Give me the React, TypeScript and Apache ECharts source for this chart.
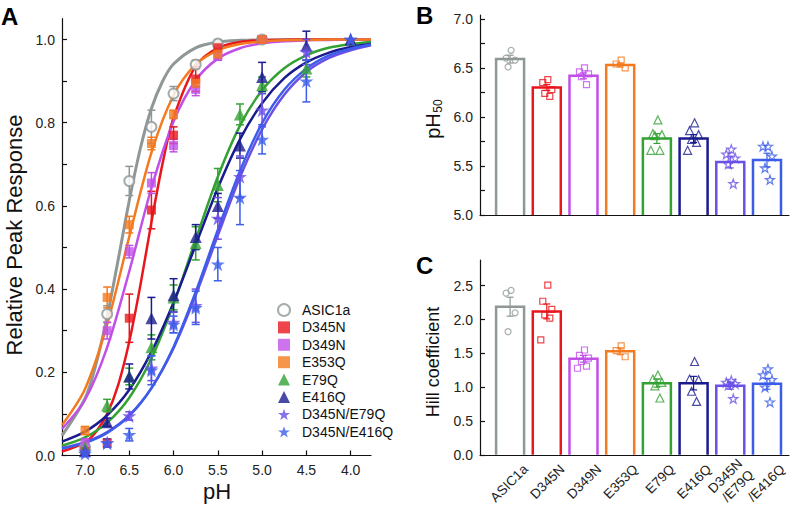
import React, { useEffect, useRef } from "react";
import * as echarts from "echarts";

const FONT = '"Liberation Sans", Arial, sans-serif';

const groupNames = ["ASIC1a", "D345N", "D349N", "E353Q", "E79Q", "E416Q", "D345N/E79Q", "D345N/E416Q"];
const hillAxisLabels = ["ASIC1a", "D345N", "D349N", "E353Q", "E79Q", "E416Q", "D345N\n/E79Q", "/E416Q"];
const groupColors = ["#8f9896", "#e8161d", "#c150e8", "#f47a1f", "#33a233", "#1b1b90", "#6b50e8", "#3b5de9"];

// ---- Panel A: concentration-response ----
const pHTicks = [7.0, 6.5, 6.0, 5.5, 5.0, 4.5, 4.0];
const respTicks = [0, 0.2, 0.4, 0.6, 0.8, 1.0];
const respMinorTicks = [0, 0.1, 0.2, 0.3, 0.4, 0.5, 0.6, 0.7, 0.8, 0.9, 1.0];

const pHSingle = [7.0, 6.75, 6.5, 6.25, 6.0, 5.75, 5.5, 5.0];
const pHDouble = [7.0, 6.75, 6.5, 6.25, 6.0, 5.75, 5.5, 5.25, 5.0, 4.5, 4.0];

const respASIC1a = [0.02, 0.34, 0.66, 0.79, 0.87, 0.94, 0.99, 1.0];
const semASIC1a = [0.01, 0.02, 0.035, 0.04, 0.017, 0.01, 0.01, 0];
const respD345N = [0.01, 0.03, 0.33, 0.59, 0.77, 0.905, 0.98, 1.0];
const semD345N = [0.005, 0.01, 0.058, 0.045, 0.02, 0.03, 0.01, 0];
const respD349N = [0.03, 0.3, 0.49, 0.655, 0.745, 0.88, 0.96, 1.0];
const semD349N = [0.01, 0.02, 0.015, 0.025, 0.015, 0.015, 0.01, 0];
const respE353Q = [0.06, 0.38, 0.555, 0.75, 0.82, 0.895, 0.965, 1.0];
const semE353Q = [0.01, 0.025, 0.02, 0.015, 0.01, 0.01, 0.01, 0];
const respE79Q = [0.02, 0.12, 0.19, 0.26, 0.38, 0.51, 0.65, 0.82, 0.89, 0.93, 1.0];
const semE79Q = [0.01, 0.015, 0.02, 0.03, 0.03, 0.04, 0.04, 0.025, 0.02, 0.02, 0];
const respE416Q = [0.01, 0.08, 0.19, 0.33, 0.385, 0.525, 0.6, 0.745, 0.91, 0.985, 1.0];
const semE416Q = [0.005, 0.01, 0.03, 0.05, 0.04, 0.03, 0.03, 0.03, 0.035, 0.035, 0];
const respD345NE79Q = [0.01, 0.03, 0.095, 0.21, 0.32, 0.36, 0.57, 0.67, 0.83, 0.97, 1.0];
const semD345NE79Q = [0.005, 0.01, 0.01, 0.03, 0.025, 0.04, 0.05, 0.05, 0.04, 0.03, 0];
const respD345NE416Q = [0.005, 0.03, 0.05, 0.205, 0.315, 0.355, 0.46, 0.62, 0.76, 0.9, 1.0];
const semD345NE416Q = [0.005, 0.01, 0.015, 0.035, 0.02, 0.04, 0.04, 0.065, 0.035, 0.05, 0];

// fitted curves
const steepPH = [7.26, 7.0, 6.875, 6.75, 6.625, 6.5, 6.375, 6.25, 6.125, 6.0, 5.75, 5.5, 5.25, 5.0, 4.5, 3.77];
const fitASIC1a = [0.048, 0.137, 0.22, 0.334, 0.471, 0.613, 0.738, 0.834, 0.899, 0.941, 0.98, 0.994, 0.998, 0.999, 1.0, 1.0];
const fitD345N = [0.0096, 0.0317, 0.057, 0.1, 0.17, 0.274, 0.409, 0.561, 0.701, 0.812, 0.936, 0.98, 0.994, 0.998, 1.0, 1.0];
const broadPH = [7.26, 7.0, 6.75, 6.5, 6.25, 6.0, 5.75, 5.5, 5.25, 5.0, 4.75, 4.5, 4.25, 4.0, 3.77];
const fitD349N = [0.064, 0.134, 0.26, 0.443, 0.643, 0.803, 0.902, 0.954, 0.979, 0.991, 0.996, 0.998, 0.999, 1.0, 1.0];
const fitE353Q = [0.073, 0.16, 0.315, 0.526, 0.728, 0.866, 0.94, 0.974, 0.989, 0.995, 0.998, 0.999, 1.0, 1.0, 1.0];
const fitE79Q = [0.0236, 0.0435, 0.079, 0.139, 0.233, 0.364, 0.519, 0.67, 0.793, 0.878, 0.931, 0.962, 0.98, 0.989, 0.994];
const fitE416Q = [0.0335, 0.0574, 0.0968, 0.158, 0.249, 0.368, 0.506, 0.643, 0.76, 0.847, 0.907, 0.945, 0.968, 0.982, 0.989];
const fitD345NE79Q = [0.0181, 0.0321, 0.0563, 0.097, 0.162, 0.258, 0.385, 0.529, 0.669, 0.784, 0.867, 0.922, 0.955, 0.974, 0.986];
const fitD345NE416Q = [0.0169, 0.0305, 0.0545, 0.095, 0.162, 0.261, 0.393, 0.542, 0.684, 0.799, 0.879, 0.93, 0.961, 0.978, 0.988];

// ---- Panel B: pH50 ----
const pH50Ticks = [5.0, 5.5, 6.0, 6.5, 7.0];
const pH50MinorTicks = [5.0, 5.25, 5.5, 5.75, 6.0, 6.25, 6.5, 6.75, 7.0];
const pH50Mean = [6.59, 6.3, 6.42, 6.53, 5.78, 5.78, 5.54, 5.56];
const pH50Sem = [0.04, 0.03, 0.03, 0.02, 0.05, 0.04, 0.06, 0.07];
const pH50Cells = [
  [6.68, 6.6, 6.58, 6.51],
  [6.38, 6.35, 6.28, 6.24, 6.21],
  [6.5, 6.46, 6.44, 6.41, 6.33],
  [6.58, 6.54, 6.5],
  [5.97, 5.83, 5.82, 5.81, 5.66, 5.66],
  [5.94, 5.86, 5.82, 5.77, 5.74, 5.66],
  [5.67, 5.62, 5.58, 5.52, 5.32],
  [5.7, 5.7, 5.6, 5.48, 5.36],
];

// ---- Panel C: Hill coefficient ----
const hillTicks = [0, 0.5, 1.0, 1.5, 2.0, 2.5];
const hillMean = [2.19, 2.12, 1.42, 1.53, 1.06, 1.06, 1.02, 1.05];
const hillSem = [0.14, 0.11, 0.05, 0.05, 0.06, 0.1, 0.05, 0.08];
const hillCells = [
  [2.43, 2.39, 2.1, 1.82],
  [2.51, 2.27, 2.15, 2.07, 2.02, 1.7],
  [1.55, 1.47, 1.43, 1.38, 1.31, 1.28],
  [1.61, 1.54, 1.45],
  [1.18, 1.12, 1.07, 1.02, 0.84],
  [1.38, 1.12, 1.11, 0.94, 0.79],
  [1.1, 1.07, 1.05, 1.03, 0.83],
  [1.27, 1.18, 1.11, 1.0, 0.78],
];

const STAR = "path://M50 2 L62 36 L98 36 L69 57 L80 92 L50 71 L20 92 L31 57 L2 36 L38 36 Z";
const groupSymbols = ["circle", "rect", "rect", "rect", "triangle", "triangle", STAR, STAR];
const symbolSizeA = [10, 9, 9, 9, 12, 12, 14, 14];
const symbolSizeBC = [6, 6, 6, 6, 8, 8, 9, 9];
const jitterPx = [1, -4, 5, -2, 3, -6];
const labelShift = 0.42;

const respA = [respASIC1a, respD345N, respD349N, respE353Q, respE79Q, respE416Q, respD345NE79Q, respD345NE416Q];
const semA = [semASIC1a, semD345N, semD349N, semE353Q, semE79Q, semE416Q, semD345NE79Q, semD345NE416Q];
const fitA = [fitASIC1a, fitD345N, fitD349N, fitE353Q, fitE79Q, fitE416Q, fitD345NE79Q, fitD345NE416Q];
const fitXA = [steepPH, steepPH, broadPH, broadPH, broadPH, broadPH, broadPH, broadPH];

function errorRender(color: string, capHalf: number, width: number) {
  return (params: any, api: any) => {
    const x = api.value(0);
    const y = api.value(1);
    const e = api.value(2);
    if (!e) return { type: "group", children: [] };
    const hi = api.coord([x, y + e]);
    const lo = api.coord([x, y - e]);
    const style = { stroke: color, lineWidth: width, fill: "none" };
    return {
      type: "group",
      children: [
        { type: "line", shape: { x1: hi[0], y1: hi[1], x2: lo[0], y2: lo[1] }, style },
        { type: "line", shape: { x1: hi[0] - capHalf, y1: hi[1], x2: hi[0] + capHalf, y2: hi[1] }, style },
        { type: "line", shape: { x1: lo[0] - capHalf, y1: lo[1], x2: lo[0] + capHalf, y2: lo[1] }, style },
      ],
    };
  };
}

function barRender(yMin: number) {
  return (params: any, api: any) => {
    const i = api.value(0);
    const v = api.value(1);
    const top = api.coord([i, v]);
    const base = api.coord([i, yMin]);
    const half = 14;
    return {
      type: "polyline",
      shape: {
        points: [
          [top[0] - half, base[1]],
          [top[0] - half, top[1]],
          [top[0] + half, top[1]],
          [top[0] + half, base[1]],
        ],
      },
      style: { stroke: groupColors[params.dataIndex], fill: "none", lineWidth: 2.5 },
    };
  };
}

const axisLineStyle = { color: "#111", width: 1.2 };
const labelStyle = { fontSize: 14, fontFamily: FONT, color: "#222" };

function buildOption(): any {
  const series: any[] = [];

  groupNames.forEach((g, gi) => {
    series.push({
      name: g + " fit",
      type: "line",
      xAxisIndex: 0,
      yAxisIndex: 0,
      data: fitXA[gi].map((p, k) => [p, fitA[gi][k]]),
      smooth: 0.3,
      showSymbol: false,
      silent: true,
      lineStyle: { color: groupColors[gi], width: gi === 0 ? 3 : 2.5 },
      z: 2,
    });
  });
  groupNames.forEach((g, gi) => {
    const xs = gi < 4 ? pHSingle : pHDouble;
    series.push({
      name: g + " sem",
      type: "custom",
      xAxisIndex: 0,
      yAxisIndex: 0,
      silent: true,
      renderItem: errorRender(groupColors[gi], 4, 1.5),
      encode: { x: 0, y: 1 },
      data: xs.map((p, k) => [p, respA[gi][k], semA[gi][k]]),
      z: 3,
    });
  });
  groupNames.forEach((g, gi) => {
    const xs = gi < 4 ? pHSingle : pHDouble;
    series.push({
      name: g,
      type: "scatter",
      xAxisIndex: 0,
      yAxisIndex: 0,
      symbol: groupSymbols[gi],
      symbolSize: symbolSizeA[gi],
      data: xs.map((p, k) => [p, respA[gi][k]]),
      itemStyle:
        gi === 0
          ? { color: "#ffffff", borderColor: groupColors[gi], borderWidth: 2 }
          : { color: groupColors[gi] },
      z: 4,
    });
  });

  const panels = [
    { xi: 1, mean: pH50Mean, sem: pH50Sem, cells: pH50Cells, yMin: 5.0, tag: "pH50" },
    { xi: 2, mean: hillMean, sem: hillSem, cells: hillCells, yMin: 0, tag: "Hill" },
  ];
  panels.forEach((pn) => {
    series.push({
      name: pn.tag + " bars",
      type: "custom",
      xAxisIndex: pn.xi,
      yAxisIndex: pn.xi,
      silent: true,
      renderItem: barRender(pn.yMin),
      encode: { x: 0, y: 1 },
      data: pn.mean.map((v, i) => [i, v]),
      z: 2,
    });
    groupNames.forEach((g, gi) => {
      series.push({
        name: g + " " + pn.tag + " sem",
        type: "custom",
        xAxisIndex: pn.xi,
        yAxisIndex: pn.xi,
        silent: true,
        renderItem: errorRender(groupColors[gi], 3.5, 1.2),
        encode: { x: 0, y: 1 },
        data: [[gi, pn.mean[gi], pn.sem[gi]]],
        z: 3,
      });
      series.push({
        name: g + " " + pn.tag,
        type: "scatter",
        xAxisIndex: pn.xi,
        yAxisIndex: pn.xi,
        symbol: groupSymbols[gi],
        symbolSize: symbolSizeBC[gi],
        data: pn.cells[gi].map((v, k) => ({ value: [gi, v], symbolOffset: [jitterPx[k % jitterPx.length], 0] })),
        itemStyle: { color: "rgba(255,255,255,0)", borderColor: groupColors[gi], borderWidth: 1.2 },
        z: 4,
      });
    });
  });

  const barXAxis = (gridIndex: number, withLabels: boolean): any => ({
    gridIndex,
    type: "value",
    min: -0.82,
    max: 7.6,
    splitLine: { show: false },
    axisLine: { show: true, onZero: false, lineStyle: axisLineStyle },
    axisTick: { show: false },
    axisLabel: withLabels
      ? {
          show: true,
          customValues: groupNames.map((_, i) => i + labelShift),
          formatter: (v: number) => hillAxisLabels[Math.round(v - labelShift)] ?? "",
          rotate: 45,
          margin: 12,
          fontSize: 13.5,
          lineHeight: 16,
          fontFamily: FONT,
          color: "#222",
        }
      : { show: false },
  });

  const valueYAxis = (gridIndex: number, min: number, max: number, ticks: number[], labels: number[]): any => ({
    gridIndex,
    type: "value",
    min,
    max,
    splitLine: { show: false },
    axisLine: { show: true, onZero: false, lineStyle: axisLineStyle },
    axisTick: { show: true, inside: true, length: 5, customValues: ticks, lineStyle: axisLineStyle },
    axisLabel: { ...labelStyle, customValues: labels, formatter: (v: number) => v.toFixed(1), margin: 7 },
  });

  return {
    animation: false,
    backgroundColor: "#ffffff",
    textStyle: { fontFamily: FONT },
    grid: [
      { left: 62, top: 18.7, width: 309, height: 436.8 },
      { left: 480, top: 15, width: 309, height: 200 },
      { left: 480, top: 260, width: 309, height: 195 },
    ],
    xAxis: [
      {
        gridIndex: 0,
        type: "value",
        inverse: true,
        min: 3.77,
        max: 7.26,
        splitLine: { show: false },
        axisLine: { show: true, onZero: false, lineStyle: axisLineStyle },
        axisTick: { show: true, inside: true, length: 5, customValues: pHTicks, lineStyle: axisLineStyle },
        axisLabel: { ...labelStyle, customValues: pHTicks, formatter: (v: number) => v.toFixed(1), margin: 7 },
      },
      barXAxis(1, false),
      barXAxis(2, true),
    ],
    yAxis: [
      valueYAxis(0, 0, 1.05, respMinorTicks, respTicks),
      valueYAxis(1, 5.0, 7.04, pH50MinorTicks, pH50Ticks),
      valueYAxis(2, 0, 2.88, hillTicks, hillTicks),
    ],
    legend: {
      orient: "vertical",
      left: 272,
      top: 298,
      itemWidth: 12,
      itemHeight: 12,
      itemGap: 3.4,
      selectedMode: false,
      textStyle: { fontSize: 14, fontFamily: FONT, color: "#111", lineHeight: 14, padding: [0, 0, 0, 7] },
      data: groupNames,
    },
    graphic: [
      { type: "text", left: 1, top: 4, style: { text: "A", font: 'bold 24px "Liberation Sans"', fill: "#000" } },
      { type: "text", left: 416, top: 3, style: { text: "B", font: 'bold 24px "Liberation Sans"', fill: "#000" } },
      { type: "text", left: 416, top: 253, style: { text: "C", font: 'bold 24px "Liberation Sans"', fill: "#000" } },
      {
        type: "text",
        x: 14,
        y: 235,
        rotation: Math.PI / 2,
        style: { text: "Relative Peak Response", font: '22px "Liberation Sans"', fill: "#111", align: "center", verticalAlign: "middle", textAlign: "center", textVerticalAlign: "middle" },
      },
      {
        type: "text",
        x: 217,
        y: 491,
        style: { text: "pH", font: '22px "Liberation Sans"', fill: "#111", align: "center", verticalAlign: "middle", textAlign: "center", textVerticalAlign: "middle" },
      },
      {
        type: "text",
        x: 433,
        y: 126,
        rotation: Math.PI / 2,
        style: { text: "pH", font: '20px "Liberation Sans"', fill: "#111", align: "center", verticalAlign: "middle", textAlign: "center", textVerticalAlign: "middle" },
      },
      {
        type: "text",
        x: 438,
        y: 106,
        rotation: Math.PI / 2,
        style: { text: "50", font: '12px "Liberation Sans"', fill: "#111", align: "center", verticalAlign: "middle", textAlign: "center", textVerticalAlign: "middle" },
      },
      {
        type: "text",
        x: 433,
        y: 362,
        rotation: Math.PI / 2,
        style: { text: "Hill coefficient", font: '18px "Liberation Sans"', fill: "#111", align: "center", verticalAlign: "middle", textAlign: "center", textVerticalAlign: "middle" },
      },
    ],
    series,
  };
}

export default function App() {
  const ref = useRef<HTMLDivElement>(null);
  useEffect(() => {
    if (!ref.current) return;
    const chart = echarts.init(ref.current, null, { renderer: "svg" });
    chart.setOption(buildOption());
    return () => chart.dispose();
  }, []);
  return (
    <div
      ref={ref}
      style={{ position: "absolute", left: 0, top: 0, width: 800, height: 510, background: "#fff" }}
    />
  );
}
